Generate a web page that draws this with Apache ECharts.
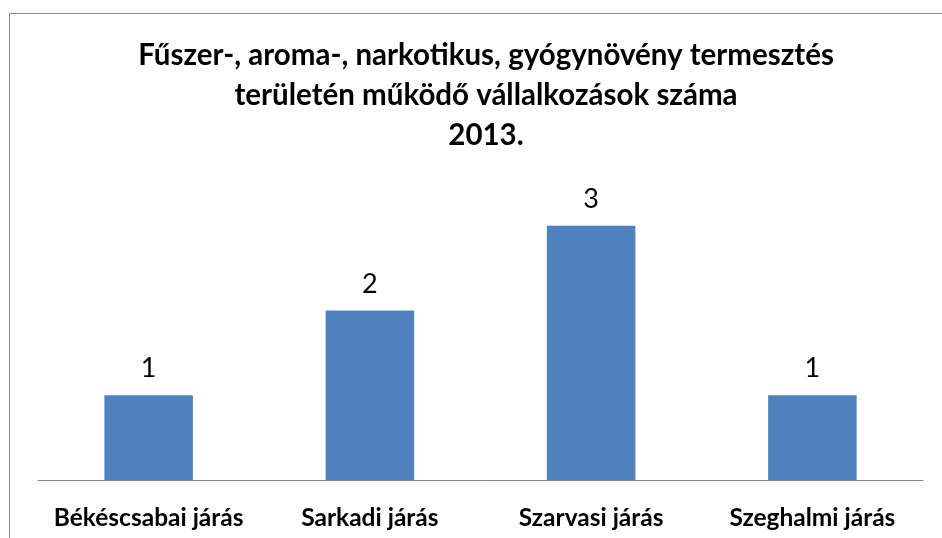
<!DOCTYPE html>
<html>
<head>
<meta charset="utf-8">
<script src="https://cdn.jsdelivr.net/npm/echarts@6/dist/echarts.min.js"></script>
<style>
  html, body { margin: 0; padding: 0; background: #fff; }
  #chart { width: 942px; height: 538px; }
</style>
</head>
<body>
<div id="chart"></div>
<script>
// Adatok
const jarasok = ['Békéscsabai járás', 'Sarkadi járás', 'Szarvasi járás', 'Szeghalmi járás'];
const vallalkozasok = [1, 2, 3, 1];
const cim = 'Fűszer-, aroma-, narkotikus, gyógynövény termesztés\nterületén működő vállalkozások száma\n2013.';

const betu = 'Lato, "Open Sans", sans-serif';

const myChart = echarts.init(document.getElementById('chart'));

const option = {
    animation: false,
    backgroundColor: '#fff',
    textStyle: { fontFamily: betu },
    title: {
        text: cim,
        left: 481,
        top: 30,
        textAlign: 'center',
        textStyle: {
            fontFamily: betu,
            fontSize: 29.5,
            fontWeight: 'bold',
            color: '#000',
            lineHeight: 40
        }
    },
    // keret a diagram körül
    graphic: [{
        type: 'rect',
        shape: { x: 9.5, y: 13.5, width: 960, height: 560 },
        style: { fill: 'none', stroke: '#868686', lineWidth: 1 },
        silent: true
    }],
    grid: {
        left: 38,
        right: 19,
        top: 141,
        bottom: 58,
        containLabel: false
    },
    xAxis: {
        type: 'category',
        data: jarasok,
        axisLine: { lineStyle: { color: '#868686', width: 1 } },
        axisTick: { show: false },
        axisLabel: {
            color: '#000',
            fontFamily: betu,
            fontSize: 24.5,
            fontWeight: 'bold',
            margin: 26,
            interval: 0
        }
    },
    yAxis: {
        type: 'value',
        min: 0,
        max: 4,
        interval: 1,
        show: false,
        splitLine: { show: false }
    },
    series: [{
        type: 'bar',
        data: vallalkozasok,
        barWidth: '40%',
        itemStyle: { color: '#4F81BD' },
        label: {
            show: true,
            position: 'top',
            distance: 13,
            color: '#000',
            fontFamily: betu,
            fontSize: 27
        }
    }]
};

myChart.setOption(option);
</script>
</body>
</html>
